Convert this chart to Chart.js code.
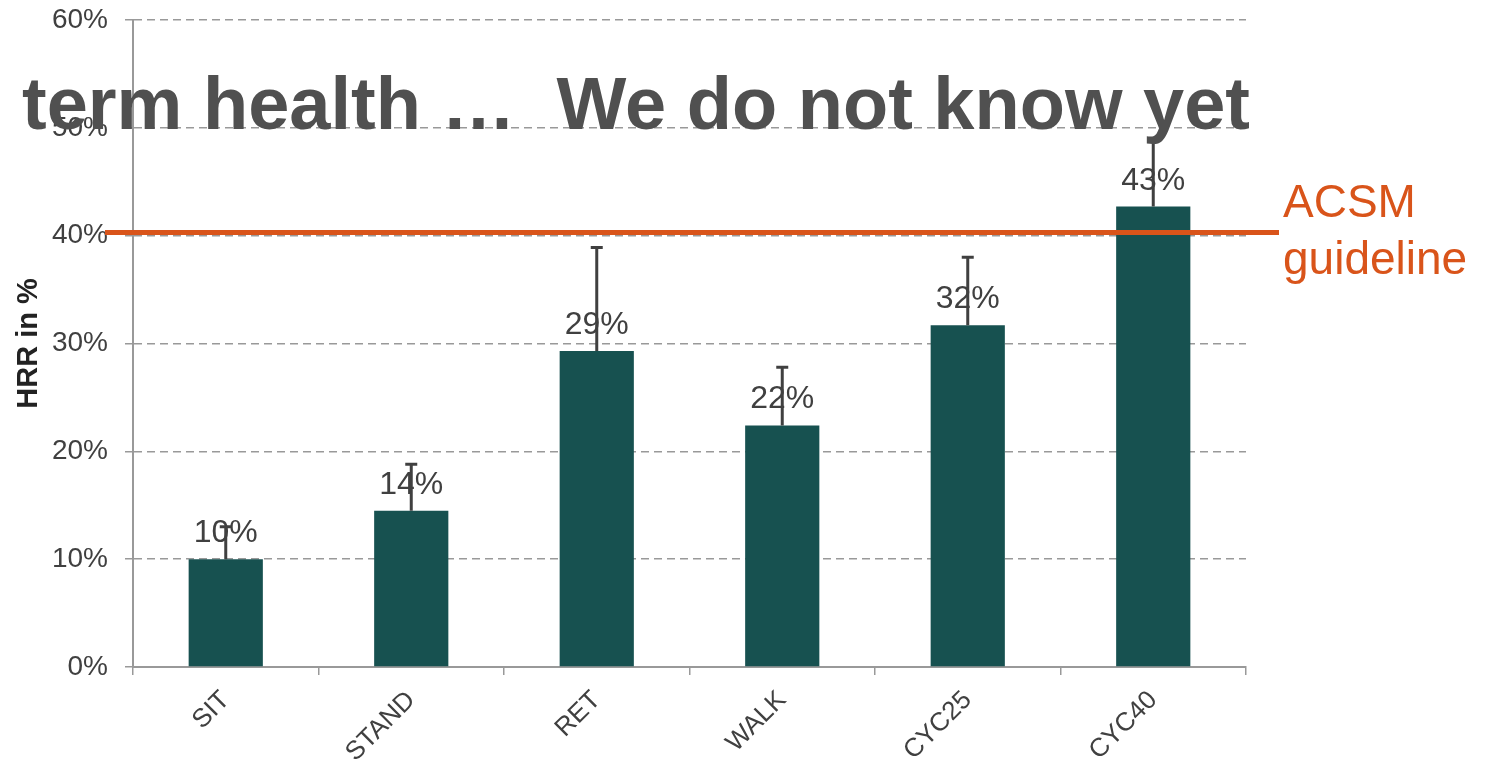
<!DOCTYPE html>
<html lang="en">
<head>
    <meta charset="UTF-8">
    <title>HRR by activity</title>
    <script src="https://cdn.jsdelivr.net/npm/chart.js"></script>
    <style>
        html, body {
            margin: 0;
            padding: 0;
            background: #ffffff;
        }
        .chart-wrap {
            width: 1488px;
            height: 767px;
            position: relative;
        }
    </style>
</head>
<body>
    <div class="chart-wrap">
        <canvas id="hrrChart"></canvas>
    </div>

    <script>
        // values
        const categories = ['SIT', 'STAND', 'RET', 'WALK', 'CYC25', 'CYC40'];
        const hrrMean = [10.0, 14.5, 29.3, 22.4, 31.7, 42.7];
        const hrrUpperError = [13.0, 18.8, 38.9, 27.8, 38.0, 48.9];
        const valueLabels = ['10%', '14%', '29%', '22%', '32%', '43%'];
        const acsmGuideline = 40.3;
        const acsmLabel = ['ACSM', 'guideline'];
        const overlayTitle = 'term health \u2026  We do not know yet';

        const FONT = '"Liberation Sans", Arial, sans-serif';
        const TEXT_GREY = '#404040';
        const AXIS_GREY = '#999999';
        const ORANGE = '#D9541A';

        // guideline, labels, error bars and the overlapping slide title
        const overlayPlugin = {
            id: 'overlay',
            afterDatasetsDraw(chart) {
                const ctx = chart.ctx;
                const y = chart.scales.y;
                const meta = chart.getDatasetMeta(0);

                // ACSM guideline
                const gy = y.getPixelForValue(acsmGuideline);
                ctx.save();
                ctx.strokeStyle = ORANGE;
                ctx.lineWidth = 5;
                ctx.beginPath();
                ctx.moveTo(105, gy);
                ctx.lineTo(1279, gy);
                ctx.stroke();

                ctx.fillStyle = ORANGE;
                ctx.font = '46px ' + FONT;
                ctx.textAlign = 'left';
                ctx.textBaseline = 'alphabetic';
                ctx.fillText(acsmLabel[0], 1283, gy - 15);
                ctx.fillText(acsmLabel[1], 1283, gy + 42);

                // value labels
                ctx.fillStyle = TEXT_GREY;
                ctx.font = '32px ' + FONT;
                ctx.textAlign = 'center';
                meta.data.forEach((bar, i) => {
                    ctx.fillText(valueLabels[i], bar.x, bar.y - 17);
                });

                // upper error bars
                ctx.strokeStyle = TEXT_GREY;
                ctx.lineWidth = 3;
                meta.data.forEach((bar, i) => {
                    const top = y.getPixelForValue(hrrUpperError[i]);
                    ctx.beginPath();
                    ctx.moveTo(bar.x, bar.y);
                    ctx.lineTo(bar.x, top);
                    ctx.moveTo(bar.x - 6, top);
                    ctx.lineTo(bar.x + 6, top);
                    ctx.stroke();
                });

                // slide title bleeding over the chart
                ctx.fillStyle = '#505050';
                ctx.textAlign = 'left';
                let size = 73;
                ctx.font = 'bold ' + size + 'px ' + FONT;
                const w = ctx.measureText(overlayTitle).width;
                size = size * 1228 / w;
                ctx.font = 'bold ' + size + 'px ' + FONT;
                ctx.fillText(overlayTitle, 22, 129);
                ctx.restore();
            }
        };

        new Chart(document.getElementById('hrrChart'), {
            type: 'bar',
            data: {
                labels: categories,
                datasets: [{
                    label: 'HRR',
                    data: hrrMean,
                    backgroundColor: '#175150',
                    borderWidth: 0,
                    barPercentage: 0.4,
                    categoryPercentage: 1.0
                }]
            },
            options: {
                responsive: true,
                maintainAspectRatio: false,
                animation: false,
                layout: {
                    padding: { top: 20, right: 242, bottom: 0, left: 12 }
                },
                plugins: {
                    legend: { display: false },
                    tooltip: { enabled: false }
                },
                scales: {
                    x: {
                        offset: true,
                        grid: {
                            offset: true,
                            drawOnChartArea: false,
                            drawTicks: true,
                            tickLength: 8,
                            color: AXIS_GREY,
                            lineWidth: 1.5
                        },
                        border: { color: AXIS_GREY, width: 2 },
                        ticks: {
                            color: TEXT_GREY,
                            font: { family: FONT, size: 26 },
                            minRotation: 45,
                            maxRotation: 45,
                            autoSkip: false,
                            padding: 10
                        },
                        afterFit(scale) {
                            scale.height = 100;
                            scale.paddingLeft = 0;
                            scale.paddingRight = 0;
                        }
                    },
                    y: {
                        min: 0,
                        max: 60,
                        grid: {
                            color: AXIS_GREY,
                            lineWidth: 1.5,
                            tickLength: 8,
                            tickBorderDash: [8, 5]
                        },
                        // in v4 border.dash dashes the grid lines
                        border: { color: AXIS_GREY, width: 2, dash: [8, 5] },
                        ticks: {
                            stepSize: 10,
                            color: TEXT_GREY,
                            padding: 17,
                            font: { family: FONT, size: 28 },
                            callback: v => v + '%'
                        },
                        title: {
                            display: true,
                            text: 'HRR in %',
                            color: '#222222',
                            font: { family: FONT, size: 29, weight: 'bold' },
                            padding: 0
                        },
                        afterFit(scale) {
                            scale.width = 121;
                            scale.paddingTop = 0;
                            scale.paddingBottom = 0;
                        }
                    }
                }
            },
            plugins: [overlayPlugin]
        });
    </script>
</body>
</html>
